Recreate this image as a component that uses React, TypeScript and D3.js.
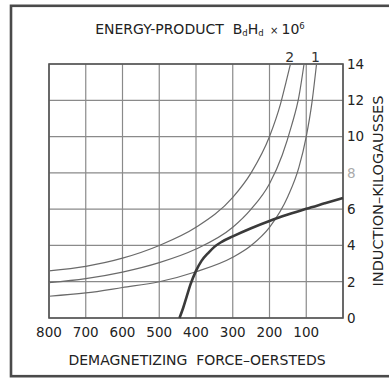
import React from 'react'
import * as d3 from 'd3'

// demagnetizing force (oersteds) ticks and induction (kilogausses) ticks
const forceTicks = [800, 700, 600, 500, 400, 300, 200, 100]
const forceGrid = [800, 700, 600, 500, 400, 300, 200, 100, 0]
const inductionTicks = [0, 2, 4, 6, 8, 10, 12, 14]

// demagnetization curve (thick)
const demagH = [445, 435, 425, 415, 400, 385, 365, 350, 330, 300, 250, 200, 150, 100, 50, 0]
const demagB = [0, 0.55, 1.2, 1.85, 2.6, 3.15, 3.62, 3.92, 4.2, 4.5, 4.95, 5.35, 5.7, 6.02, 6.32, 6.62]

// energy-product curves
const curve2H = [800, 700, 600, 500, 400, 300, 250, 200, 170, 155, 143]
const curve2B = [2.6, 2.85, 3.3, 4.0, 5.0, 6.65, 8.0, 10.0, 11.8, 13.0, 14]
const curveMidH = [800, 700, 600, 500, 400, 300, 250, 200, 165, 140, 120, 106]
const curveMidB = [1.95, 2.17, 2.53, 3.05, 3.8, 5.0, 6.0, 7.4, 9.0, 10.6, 12.2, 14]
const curve1H = [800, 700, 600, 500, 400, 300, 250, 200, 150, 120, 100, 85, 72]
const curve1B = [1.2, 1.38, 1.68, 2.0, 2.55, 3.35, 4.0, 5.0, 6.7, 8.3, 10.0, 11.8, 14]

const curveLabels = [
  { text: '2', h: 145 },
  { text: '1', h: 75 },
]

const W = 389
const H = 379
const font = '"DejaVu Sans", sans-serif'

export default function App() {
  const x = d3.scaleLinear().domain([800, 0]).range([49, 343])
  const y = d3.scaleLinear().domain([0, 14]).range([318, 64])

  const line = d3
    .line<[number, number]>()
    .x((d) => x(d[0]))
    .y((d) => y(d[1]))
    .curve(d3.curveMonotoneX)

  const pts = (hs: number[], bs: number[]) => hs.map((h, i) => [h, bs[i]] as [number, number])

  return (
    <svg width={W} height={H} style={{ position: 'absolute', left: 0, top: 0, background: '#fff' }}>
      <rect x={11} y={5.8} width={400} height={370.4} fill="none" stroke="#4a4a4a" strokeWidth={2.6} />

      {/* grid */}
      {forceGrid.map((f) => (
        <line key={'v' + f} x1={x(f)} x2={x(f)} y1={y(0)} y2={y(14)} stroke="#8a8a8a" strokeWidth={1.2} />
      ))}
      {inductionTicks.map((b) => (
        <line key={'h' + b} x1={x(800)} x2={x(0)} y1={y(b)} y2={y(b)} stroke="#8a8a8a" strokeWidth={1.2} />
      ))}
      <rect
        x={x(800)}
        y={y(14)}
        width={x(0) - x(800)}
        height={y(0) - y(14)}
        fill="none"
        stroke="#555"
        strokeWidth={1.6}
      />

      {/* energy product curves */}
      {[pts(curve2H, curve2B), pts(curveMidH, curveMidB), pts(curve1H, curve1B)].map((p, i) => (
        <path key={'c' + i} d={line(p) || ''} fill="none" stroke="#6a6a6a" strokeWidth={1.2} />
      ))}

      {/* demagnetization curve */}
      <path d={line(pts(demagH, demagB)) || ''} fill="none" stroke="#3a3a3a" strokeWidth={2.6} />

      {curveLabels.map((l) => (
        <text key={l.text} x={x(l.h)} y={62} textAnchor="middle" fontFamily={font} fontSize={14} fill="#333">
          {l.text}
        </text>
      ))}

      {/* ticks */}
      {forceTicks.map((f) => (
        <text key={'xt' + f} x={x(f)} y={337} textAnchor="middle" fontFamily={font} fontSize={13.5} fill="#222">
          {f}
        </text>
      ))}
      {inductionTicks.map((b) => (
        <text
          key={'yt' + b}
          x={347}
          y={y(b)}
          dy="0.36em"
          fontFamily={font}
          fontSize={13.5}
          fill={b === 8 ? '#aaa' : '#222'}
        >
          {b}
        </text>
      ))}

      {/* titles */}
      <text x={200} y={34} textAnchor="middle" fontFamily={font} fontSize={14} fill="#222" xmlSpace="preserve">
        ENERGY-PRODUCT{'  '}
        <tspan>B</tspan>
        <tspan fontSize={8.5} dy={2}>d</tspan>
        <tspan dy={-2}>H</tspan>
        <tspan fontSize={8.5} dy={2}>d</tspan>
        <tspan dy={-2} fontSize={10}>{'  '}×{' '}</tspan>
        <tspan>10</tspan>
        <tspan fontSize={8.5} dy={-5}>6</tspan>
      </text>
      <text x={197} y={365} textAnchor="middle" fontFamily={font} fontSize={14} fill="#222" xmlSpace="preserve">
        DEMAGNETIZING  FORCE–OERSTEDS
      </text>
      <text
        transform={`translate(383,191) rotate(-90)`}
        textAnchor="middle"
        fontFamily={font}
        fontSize={14.5}
        fill="#222"
      >
        INDUCTION–KILOGAUSSES
      </text>
    </svg>
  )
}
